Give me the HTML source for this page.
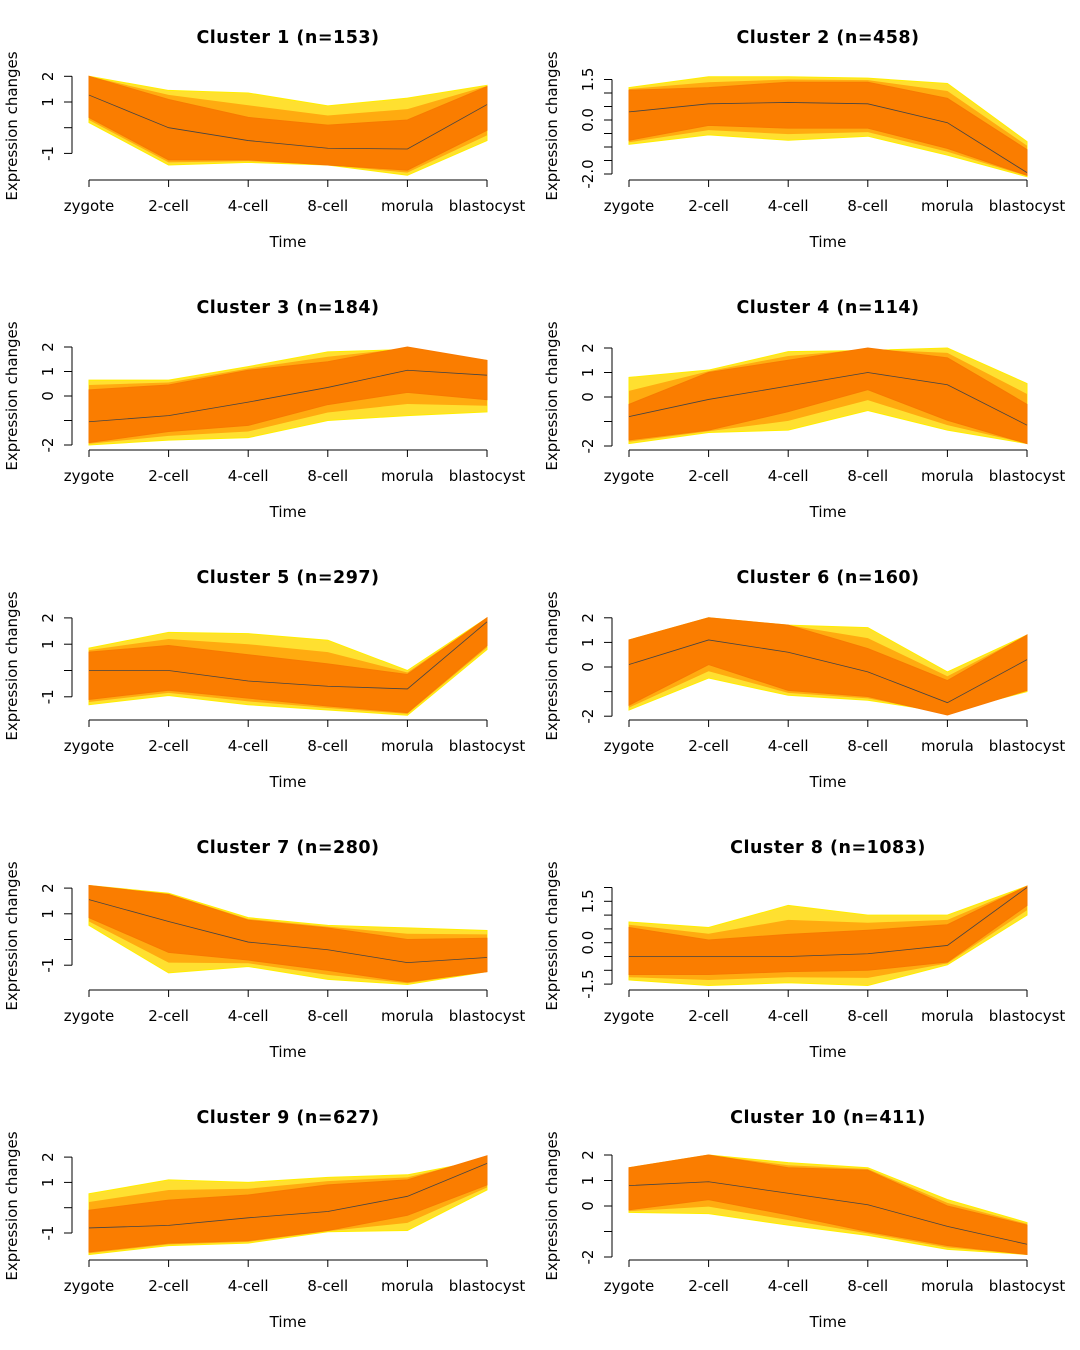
<!DOCTYPE html>
<html><head><meta charset="utf-8"><style>
html,body{margin:0;padding:0;background:#fff;}
svg{display:block;font-family:"DejaVu Sans","Liberation Sans",sans-serif;}
</style></head><body>
<svg id="chart" width="1080" height="1350" viewBox="0 0 1080 1350" xmlns="http://www.w3.org/2000/svg"></svg>
<script>
const timepoints = ["zygote","2-cell","4-cell","8-cell","morula","blastocyst"];
const clusterTitles = ["Cluster 1 (n=153)","Cluster 2 (n=458)","Cluster 3 (n=184)","Cluster 4 (n=114)","Cluster 5 (n=297)","Cluster 6 (n=160)","Cluster 7 (n=280)","Cluster 8 (n=1083)","Cluster 9 (n=627)","Cluster 10 (n=411)"];
const centroids = [
 [1.27,0.0,-0.5,-0.8,-0.83,0.9],
 [0.3,0.6,0.65,0.6,-0.1,-1.95],
 [-1.05,-0.8,-0.25,0.35,1.05,0.85],
 [-0.8,-0.1,0.45,1.0,0.5,-1.15],
 [0.0,0.0,-0.4,-0.6,-0.7,1.85],
 [0.1,1.1,0.6,-0.2,-1.45,0.3],
 [1.55,0.7,-0.1,-0.4,-0.9,-0.7],
 [-0.5,-0.5,-0.5,-0.4,-0.1,2.0],
 [-0.8,-0.7,-0.4,-0.15,0.45,1.75],
 [0.8,0.95,0.5,0.05,-0.8,-1.5]
];
const orangeHigh = [
 [2.0,1.1,0.4,0.1,0.3,1.6],[1.1,1.2,1.4,1.4,0.8,-1.1],[0.25,0.45,1.05,1.4,2.0,1.45],[-0.3,1.0,1.5,2.0,1.6,-0.3],[0.7,0.95,0.6,0.25,-0.15,2.0],
 [1.1,2.0,1.7,0.75,-0.55,1.3],[2.1,1.75,0.75,0.45,0.0,0.05],[0.55,0.1,0.3,0.45,0.65,2.05],[-0.1,0.3,0.5,0.9,1.1,2.05],[1.5,2.0,1.5,1.4,0.0,-0.75]
];
const orangeLow = [
 [0.4,-1.25,-1.25,-1.45,-1.65,-0.1],[-0.75,-0.2,-0.3,-0.3,-1.05,-2.05],[-1.9,-1.45,-1.2,-0.35,0.15,-0.15],[-1.75,-1.35,-0.6,0.3,-0.95,-1.9],[-1.1,-0.75,-1.05,-1.35,-1.6,0.95],
 [-1.55,0.1,-0.95,-1.2,-1.95,-0.95],[0.85,-0.5,-0.8,-1.2,-1.65,-1.25],[-1.15,-1.15,-1.05,-1.0,-0.7,1.35],[-1.75,-1.4,-1.3,-0.9,-0.3,0.9],[-0.15,0.25,-0.35,-1.0,-1.55,-1.9]
];
const yellowHigh = [
 [2.0,1.45,1.35,0.85,1.15,1.65],[1.2,1.6,1.6,1.55,1.35,-0.8],[0.65,0.65,1.2,1.8,1.9,1.45],[0.8,1.1,1.85,1.9,2.0,0.55],[0.85,1.45,1.4,1.15,0.0,2.0],
 [1.1,2.0,1.7,1.6,-0.2,1.3],[2.1,1.8,0.85,0.55,0.45,0.35],[0.75,0.55,1.35,1.0,1.0,2.05],[0.55,1.1,1.0,1.2,1.3,1.9],[1.5,2.0,1.7,1.5,0.25,-0.65]
];
const yellowLow = [
 [0.2,-1.45,-1.35,-1.45,-1.85,-0.5],[-0.9,-0.55,-0.75,-0.6,-1.3,-2.1],[-2.0,-1.8,-1.7,-1.0,-0.8,-0.65],[-1.9,-1.45,-1.35,-0.55,-1.35,-1.9],[-1.3,-0.95,-1.3,-1.5,-1.7,0.8],
 [-1.75,-0.45,-1.15,-1.35,-1.85,-1.0],[0.55,-1.3,-1.05,-1.55,-1.75,-1.25],[-1.35,-1.55,-1.45,-1.55,-0.8,1.0],[-1.85,-1.5,-1.4,-0.95,-0.9,0.7],[-0.25,-0.3,-0.75,-1.15,-1.7,-1.9]
];
const tickValues = [
 [-1,0,1,2],[-2,-1.5,-1,-0.5,0,0.5,1,1.5],[-2,-1,0,1,2],[-2,-1,0,1,2],[-1,0,1,2],
 [-2,-1,0,1,2],[-1,0,1,2],[-1.5,-1,-0.5,0,0.5,1,1.5,2],[-1,0,1,2],[-2,-1,0,1,2]
];
const tickLabels = [
 {"-1":"-1","1":"1","2":"2"},{"-2":"-2.0","0":"0.0","1.5":"1.5"},{"-2":"-2","0":"0","1":"1","2":"2"},{"-2":"-2","0":"0","1":"1","2":"2"},{"-1":"-1","1":"1","2":"2"},
 {"-2":"-2","0":"0","1":"1","2":"2"},{"-1":"-1","1":"1","2":"2"},{"-1.5":"-1.5","0":"0.0","1.5":"1.5"},{"-1":"-1","1":"1","2":"2"},{"-2":"-2","0":"0","1":"1","2":"2"}
];
// scale config (pixel of zero within panel, px per unit)
const zeroPx=[127.7,120,126,127,130.5,127,129.5,132.7,127.7,126];
const unitPx=[25.7,27,24.5,24.5,26.3,24.6,25.7,27.6,25.3,25.5];

const NS="http://www.w3.org/2000/svg";
const svg=document.getElementById('chart');
function mk(tag,attrs,parent){const e=document.createElementNS(NS,tag);for(const k in attrs)e.setAttribute(k,attrs[k]);parent.appendChild(e);return e;}
function xScale(i){return 89+i*(398/5);}

for(let c=0;c<10;c++){
  const ox=(c%2)*540, oy=Math.floor(c/2)*270;
  const yScale=v=>zeroPx[c]-v*unitPx[c];
  const g=mk('g',{transform:`translate(${ox},${oy})`},svg);
  
  
  const band=(hi,lo)=>{let p=[];for(let i=0;i<6;i++)p.push(xScale(i)+','+yScale(hi[i]));for(let i=5;i>=0;i--)p.push(xScale(i)+','+yScale(lo[i]));return p.join(' ');};
  const yb=mk('polygon',{points:band(yellowHigh[c],yellowLow[c]),fill:'#ffe030',stroke:'#ffee00','stroke-width':1},g);
  
  
  const mb=mk('polygon',{points:band(yellowHigh[c].map((v,i)=>(v+orangeHigh[c][i])/2),yellowLow[c].map((v,i)=>(v+orangeLow[c][i])/2)),fill:'#ffab10',stroke:'none'},g);
  
  
  const ob=mk('polygon',{points:band(orangeHigh[c],orangeLow[c]),fill:'#fa7d00',stroke:'#f77a00','stroke-width':1},g);
  
  
  const cl=mk('polyline',{points:centroids[c].map((v,i)=>xScale(i)+','+yScale(v)).join(' '),fill:'none',stroke:'#444','stroke-width':0.8},g);
  
  
  const xa=mk('line',{x1:89,x2:487,y1:180,y2:180,stroke:'#000','stroke-width':1},g);
  
  
  timepoints.forEach((t,i)=>{
    mk('line',{x1:xScale(i),x2:xScale(i),y1:180,y2:187,stroke:'#000','stroke-width':1},g);
    const tl=mk('text',{x:xScale(i),y:211,'text-anchor':'middle','font-size':15,fill:'#000'},g);
    tl.textContent=t;
    
    
  });
  const tv=tickValues[c];
  const ya=mk('line',{x1:72,x2:72,y1:yScale(tv[0]),y2:yScale(tv[tv.length-1]),stroke:'#000','stroke-width':1},g);
  
  
  tv.forEach(v=>{
    const y=yScale(v);
    mk('line',{x1:64,x2:72,y1:y,y2:y,stroke:'#000','stroke-width':1},g);
    const lab=tickLabels[c][String(v)];
    if(lab){const t=mk('text',{x:0,y:0,transform:`translate(53,${y}) rotate(-90)`,'text-anchor':'middle','font-size':15,fill:'#000'},g);t.textContent=lab;
      
      }
  });
  const ttl=mk('text',{x:288,y:43,'text-anchor':'middle','font-size':17.5,'font-weight':'bold','letter-spacing':0.5,fill:'#000'},g);
  ttl.textContent=clusterTitles[c];
  
  
  const xt=mk('text',{x:288,y:247,'text-anchor':'middle','font-size':15,fill:'#000'},g);
  xt.textContent='Time';
  
  
  const yt=mk('text',{x:0,y:0,transform:'translate(17,126) rotate(-90)','text-anchor':'middle','font-size':15,fill:'#000'},g);
  yt.textContent='Expression changes';
  
  
}
</script>
</body></html>
